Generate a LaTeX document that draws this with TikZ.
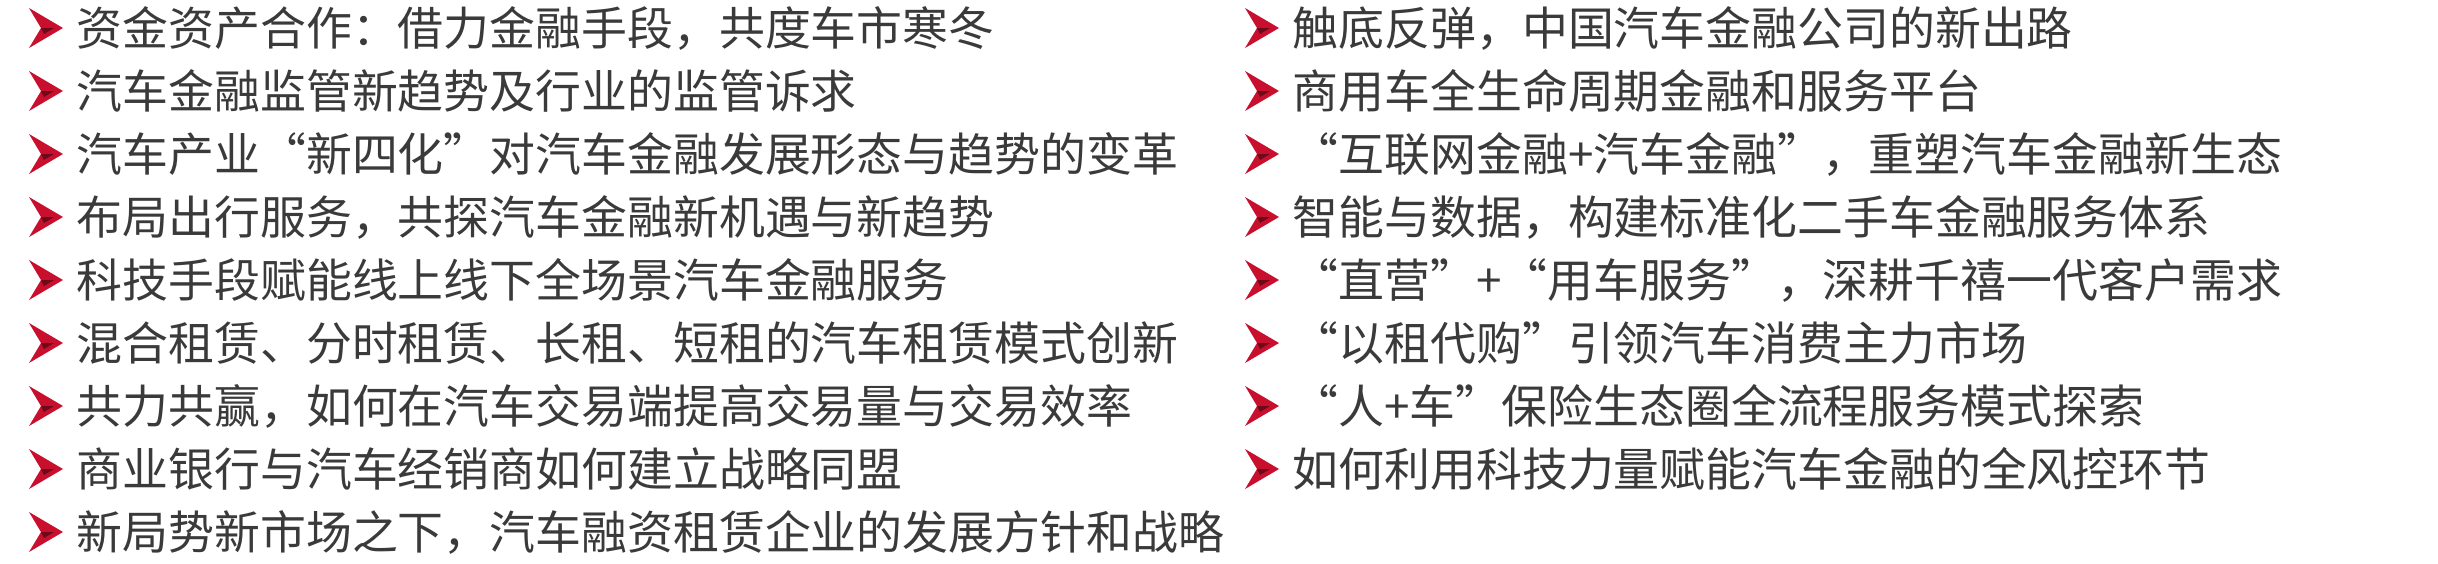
\documentclass[tikz,border=0pt]{standalone}
\usepackage{fontspec}
\setmainfont{Noto Sans CJK SC}
\definecolor{txt}{HTML}{3A3A3A}
\definecolor{redc}{HTML}{C8102E}
\tikzset{
 item/.style={anchor=west,inner sep=0pt,text=txt,font=\fontsize{13.05pt}{16pt}\selectfont},
 chev/.pic={\fill[redc] (-17,-20)--(17,0)--(-17,20)--(-5,0)--cycle;
            \fill[redc!55!black] (-5,0)--(8,0)--(-2,6)--cycle;}
}
\begin{document}
\begin{tikzpicture}[x=0.01cm,y=-0.01cm]
\useasboundingbox (0,0) rectangle (2438,563);
\foreach \t [count=\i] in {资金资产合作：借力金融手段，共度车市寒冬,汽车金融监管新趋势及行业的监管诉求,汽车产业“新四化”对汽车金融发展形态与趋势的变革,布局出行服务，共探汽车金融新机遇与新趋势,科技手段赋能线上线下全场景汽车金融服务,混合租赁、分时租赁、长租、短租的汽车租赁模式创新,共力共赢，如何在汽车交易端提高交易量与交易效率,商业银行与汽车经销商如何建立战略同盟,新局势新市场之下，汽车融资租赁企业的发展方针和战略}{
 \pgfmathsetmacro\yy{28+63*(\i-1)}
 \pic at (46,\yy) {chev};
 \node[item] (l\i) at (76,\yy) {\t};
}
\foreach \t [count=\i] in {触底反弹，中国汽车金融公司的新出路,商用车全生命周期金融和服务平台,“互联网金融+汽车金融”，重塑汽车金融新生态,智能与数据，构建标准化二手车金融服务体系,“直营”+“用车服务”，深耕千禧一代客户需求,“以租代购”引领汽车消费主力市场,“人+车”保险生态圈全流程服务模式探索,如何利用科技力量赋能汽车金融的全风控环节}{
 \pgfmathsetmacro\yy{28+63*(\i-1)}
 \pic at (1262,\yy) {chev};
 \node[item] (r\i) at (1292,\yy) {\t};
}
\end{tikzpicture}
\end{document}
